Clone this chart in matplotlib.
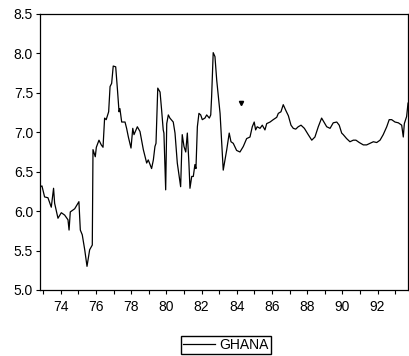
import numpy as np
import matplotlib.pyplot as plt

plt.rcParams['font.family'] = ['Liberation Sans', 'DejaVu Sans']

# Ghana series, time in years (decimal, 1900 offset) and value
years = [72.85, 72.93, 73.08, 73.27, 73.46, 73.59, 73.65, 73.84, 74.03, 74.22,
         74.41, 74.47, 74.54, 74.79, 75.03, 75.11, 75.22, 75.36, 75.49, 75.64,
         75.79, 75.83, 75.96, 76.02, 76.17, 76.30, 76.40, 76.49, 76.58, 76.72,
         76.80, 76.89, 76.98, 77.12, 77.22, 77.31, 77.36, 77.46, 77.65, 77.74,
         77.84, 77.99, 78.09, 78.16, 78.35, 78.50, 78.69, 78.88, 78.97, 79.16,
         79.26, 79.35, 79.41, 79.51, 79.64, 79.73, 79.82, 79.86, 79.96, 80.02,
         80.11, 80.20, 80.39, 80.49, 80.62, 80.81, 80.90, 81.00, 81.10, 81.19,
         81.28, 81.34, 81.44, 81.53, 81.62, 81.68, 81.76, 81.85, 81.95, 82.04,
         82.19, 82.29, 82.44, 82.52, 82.57, 82.66, 82.76, 82.86, 83.05, 83.23,
         83.43, 83.57, 83.67, 83.80, 83.99, 84.18, 84.37, 84.56, 84.75, 84.88,
         84.99, 85.07, 85.16, 85.32, 85.45, 85.60, 85.70, 85.89, 86.07, 86.27,
         86.36, 86.51, 86.64, 86.78, 86.93, 87.08, 87.21, 87.35, 87.49, 87.65,
         87.84, 88.06, 88.26, 88.44, 88.63, 88.82, 88.95, 89.11, 89.30, 89.48,
         89.68, 89.82, 89.96, 90.05, 90.24, 90.43, 90.62, 90.77, 90.96, 91.19,
         91.38, 91.57, 91.76, 91.95, 92.14, 92.32, 92.52, 92.66, 92.80, 92.99,
         93.18, 93.37, 93.46, 93.52, 93.65, 93.73]
ghana = [6.31, 6.32, 6.18, 6.17, 6.05, 6.29, 6.10, 5.91, 5.98, 5.95,
         5.89, 5.76, 5.99, 6.03, 6.12, 5.76, 5.70, 5.51, 5.30, 5.51,
         5.57, 6.78, 6.69, 6.81, 6.90, 6.84, 6.81, 7.18, 7.16, 7.26,
         7.58, 7.62, 7.84, 7.83, 7.54, 7.26, 7.30, 7.13, 7.13, 7.05,
         6.94, 6.80, 7.05, 6.97, 7.07, 7.01, 6.78, 6.61, 6.65, 6.54,
         6.65, 6.82, 6.86, 7.56, 7.51, 7.28, 7.03, 6.99, 6.27, 7.11,
         7.22, 7.18, 7.13, 6.99, 6.61, 6.31, 6.97, 6.82, 6.75, 6.99,
         6.61, 6.29, 6.44, 6.44, 6.59, 6.54, 7.07, 7.24, 7.22, 7.16,
         7.18, 7.22, 7.18, 7.22, 7.45, 8.01, 7.96, 7.66, 7.24, 6.52,
         6.78, 6.99, 6.88, 6.86, 6.77, 6.75, 6.82, 6.92, 6.94, 7.07,
         7.13, 7.03, 7.07, 7.05, 7.09, 7.03, 7.11, 7.13, 7.16, 7.19,
         7.24, 7.26, 7.35, 7.28, 7.21, 7.09, 7.05, 7.04, 7.07, 7.09,
         7.05, 6.97, 6.90, 6.94, 7.07, 7.18, 7.13, 7.07, 7.05, 7.12,
         7.13, 7.09, 6.99, 6.97, 6.92, 6.88, 6.90, 6.90, 6.87, 6.84,
         6.84, 6.86, 6.88, 6.87, 6.90, 6.97, 7.07, 7.16, 7.16, 7.13,
         7.12, 7.09, 6.94, 7.11, 7.20, 7.37]

# stray mark above the line
mark_year = [84.24]
mark_val = [7.37]

year_ticks = list(range(73, 94))
year_labels = [str(y) if y % 2 == 0 else '' for y in year_ticks]
val_ticks = [5.0, 5.5, 6.0, 6.5, 7.0, 7.5, 8.0, 8.5]

fig = plt.figure(figsize=(4.10, 3.56), dpi=100)
ax = fig.add_axes([0.0976, 0.1854, 0.8976, 0.7753])

ax.plot(years, ghana, color='black', lw=0.9, label='GHANA')
ax.plot(mark_year, mark_val, ls='none', marker='v', ms=3, color='black')

ax.set_xlim(72.82, 93.73)
ax.set_ylim(5.0, 8.5)
ax.set_xticks(year_ticks)
ax.set_xticklabels(year_labels)
ax.set_yticks(val_ticks)
ax.set_yticklabels(['%.1f' % v for v in val_ticks])
ax.tick_params(axis='both', direction='out', length=3, width=0.8,
               labelsize=10, color='black', pad=2)
ax.tick_params(axis='x', pad=4)
for s in ax.spines.values():
    s.set_linewidth(0.9)
    s.set_color('black')

fig.legend(loc='center', bbox_to_anchor=(226 / 410, 1 - 345 / 356),
           frameon=True, fancybox=False, edgecolor='black', framealpha=1,
           fontsize=10, handlelength=2.3, handletextpad=0.3,
           borderpad=0.15, borderaxespad=0)

fig.savefig('out.png', dpi=100)
